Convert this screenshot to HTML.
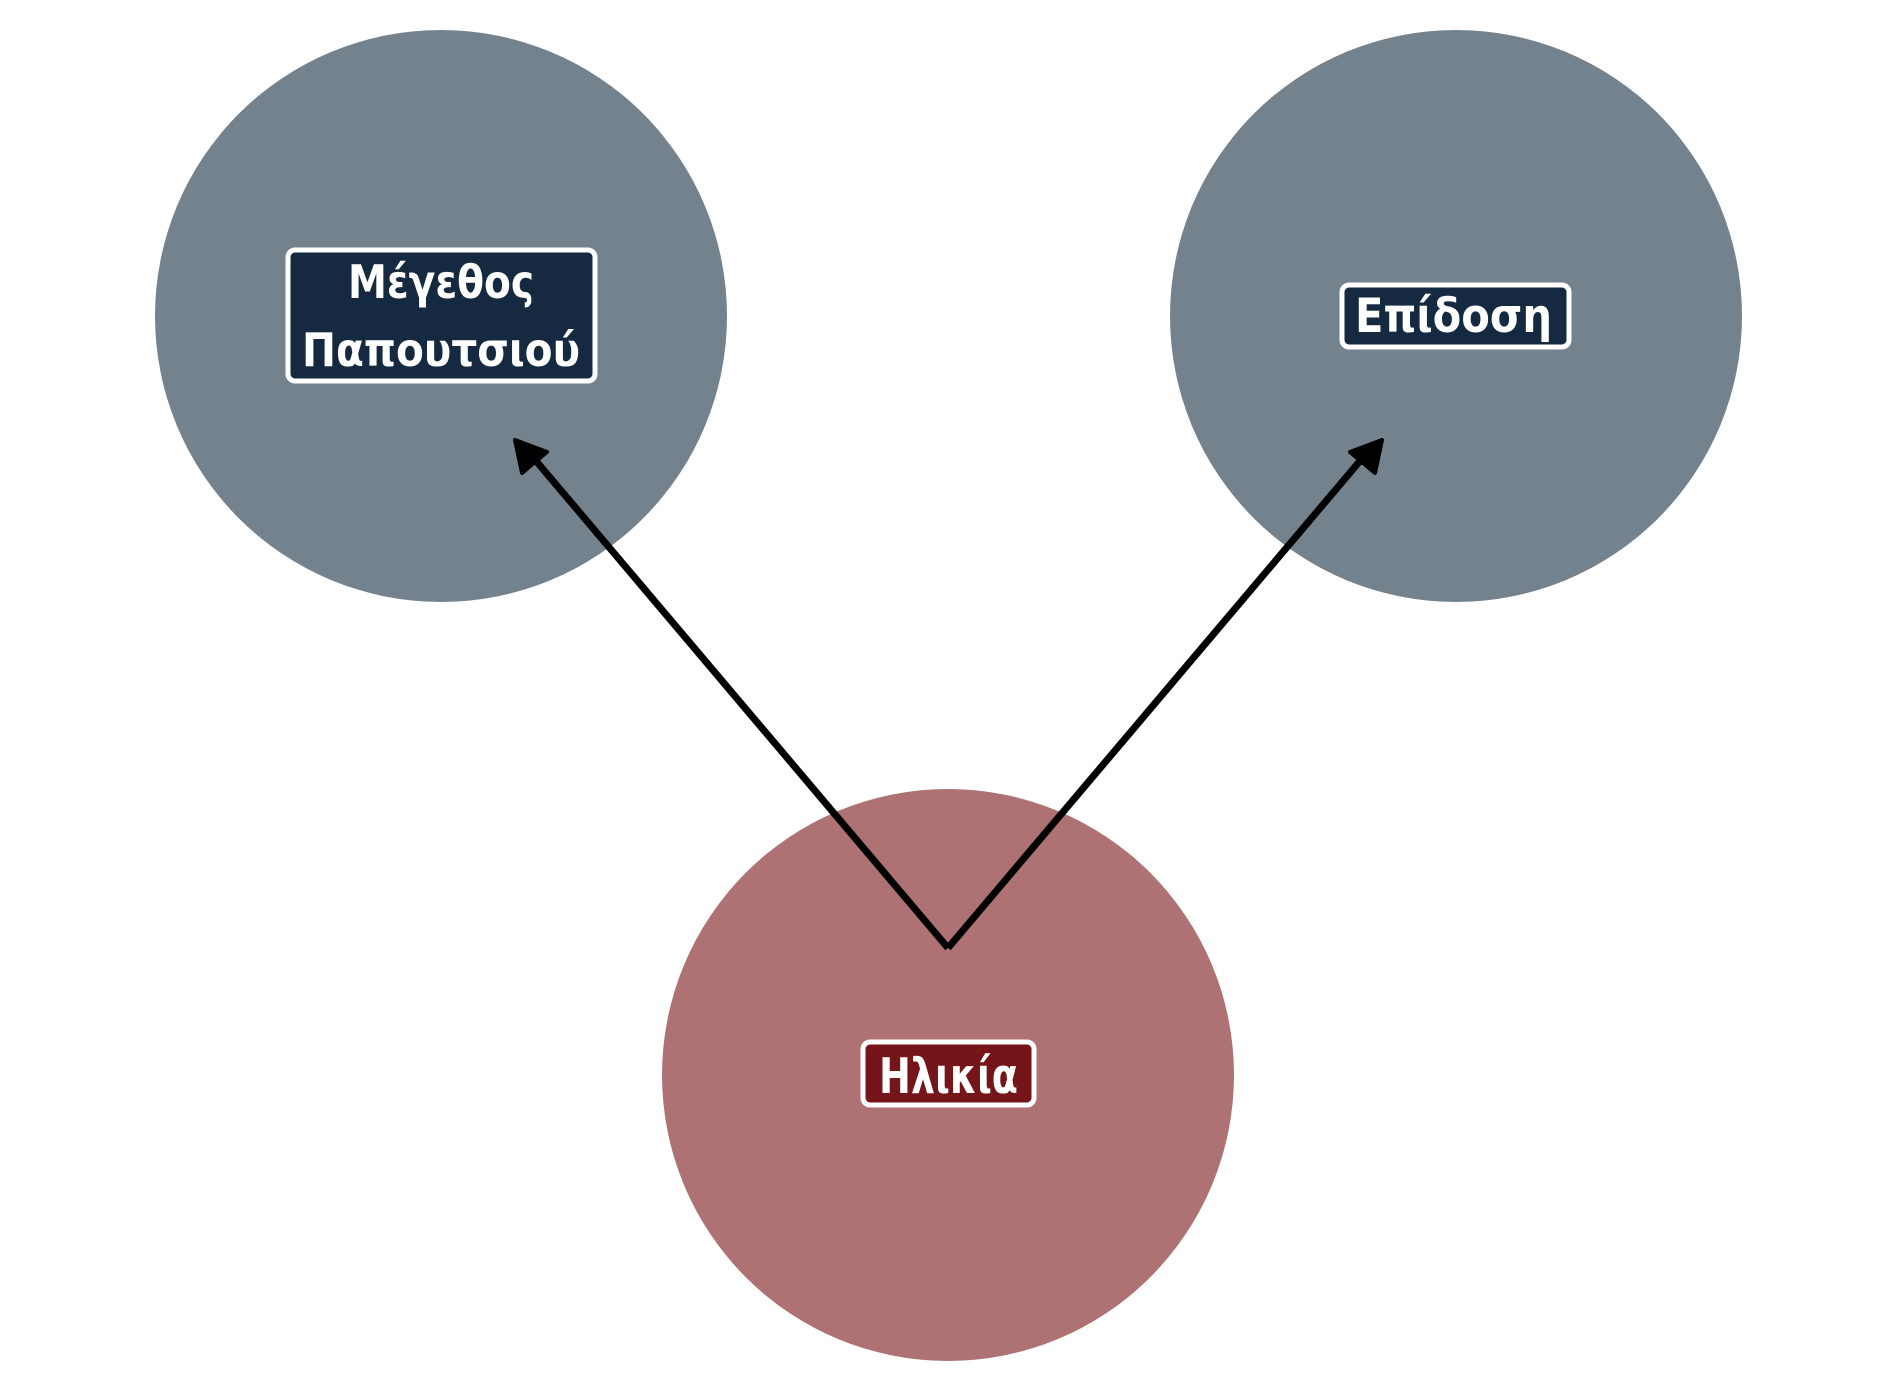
<!DOCTYPE html>
<html><head><meta charset="utf-8"><style>html,body{margin:0;padding:0;background:#fff}</style></head>
<body>
<svg width="1897" height="1390" viewBox="0 0 1897 1390" xmlns="http://www.w3.org/2000/svg">
<circle cx="441" cy="316" r="286" fill="#74828e"/>
<circle cx="1456" cy="316" r="286" fill="#74828e"/>
<circle cx="948" cy="1075" r="286" fill="#ae7275"/>
<g stroke="#000" stroke-width="7" fill="none">
<line x1="948" y1="948" x2="531" y2="455"/>
<line x1="948" y1="948" x2="1365" y2="455"/>
</g>
<polygon points="515,440 547,452 522,473" fill="#000" stroke="#000" stroke-width="4" stroke-linejoin="round"/>
<polygon points="1382,440 1350,452 1375,473" fill="#000" stroke="#000" stroke-width="4" stroke-linejoin="round"/>
<g stroke="#fff" stroke-width="5">
<rect x="288" y="250" width="307" height="131" rx="7" fill="#152a40"/>
<rect x="1342" y="285" width="227" height="62" rx="7" fill="#152a40"/>
<rect x="863" y="1042" width="171" height="63" rx="7" fill="#751519"/>
</g>
<g fill="#fff" font-family="'DejaVu Sans',sans-serif" font-weight="bold">
<text x="348" y="298" font-size="46" textLength="186" lengthAdjust="spacingAndGlyphs">Μέγεθος</text>
<text x="302" y="366" font-size="46" textLength="278" lengthAdjust="spacingAndGlyphs">Παπουτσιού</text>
<text x="1355" y="332" font-size="47" textLength="197" lengthAdjust="spacingAndGlyphs">Επίδοση</text>
<text x="879" y="1093" font-size="49" textLength="139" lengthAdjust="spacingAndGlyphs">Ηλικία</text>
</g>
</svg>
</body></html>
